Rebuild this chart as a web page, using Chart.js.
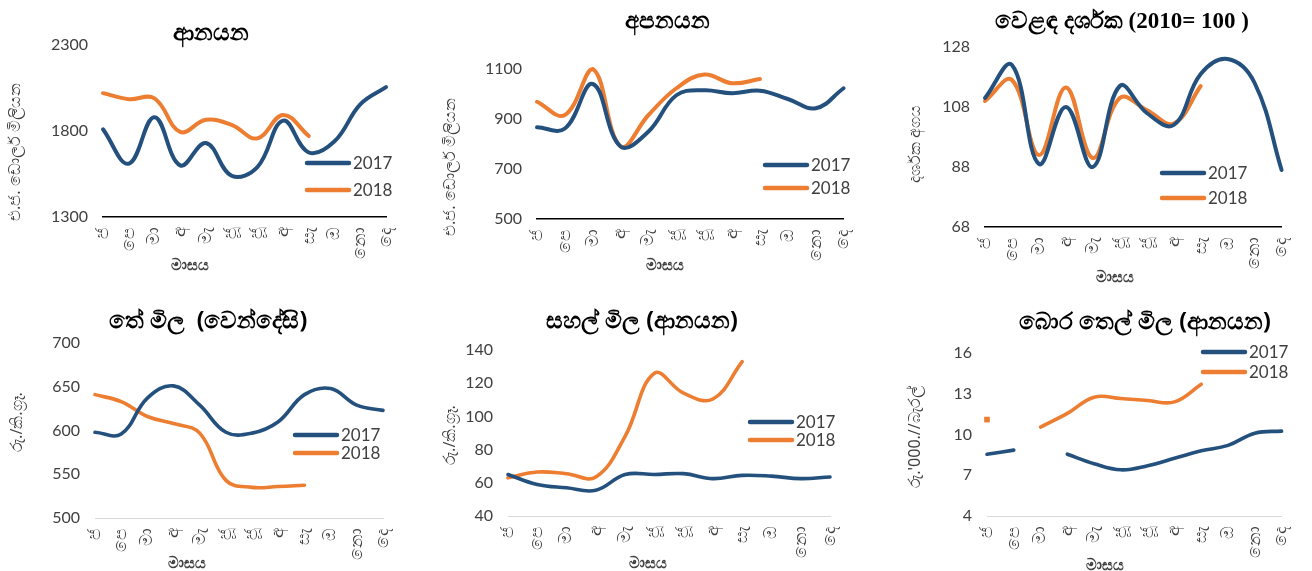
<!DOCTYPE html>
<html>
<head>
<meta charset="utf-8">
<script src="https://cdn.jsdelivr.net/npm/chart.js@4.4.1/dist/chart.umd.min.js"></script>
<style>
  body { margin: 0; background: #fff; }
  #wrap { position: relative; width: 1312px; height: 571px; overflow: hidden; }
  canvas { position: absolute; }
</style>
</head>
<body>
<div id="wrap">
  <canvas id="c1" width="437" height="290" style="left:0;top:0"></canvas>
  <canvas id="c2" width="437" height="290" style="left:437px;top:0"></canvas>
  <canvas id="c3" width="438" height="290" style="left:874px;top:0"></canvas>
  <canvas id="c4" width="437" height="281" style="left:0;top:290px"></canvas>
  <canvas id="c5" width="437" height="281" style="left:437px;top:290px"></canvas>
  <canvas id="c6" width="438" height="281" style="left:874px;top:290px"></canvas>
</div>
<script>
// මාස (x අක්ෂය)
const months = ['ජ', 'පෙ', 'මා', 'අ', 'මැ', 'ජූ', 'ජූ', 'අ', 'සැ', 'ඔ', 'නො', 'දෙ'];
const years = ['2017', '2018'];

// ආනයන (එ.ජ. ඩොලර් මිලියන)
const imports2017 = [1810, 1610, 1880, 1600, 1730, 1540, 1590, 1860, 1675, 1740, 1955, 2055];
const imports2018 = [2020, 1985, 1990, 1795, 1865, 1835, 1757, 1893, 1771];
const importsTicks = [1300, 1800, 2300];

// අපනයන
const exports2017 = [867, 862, 1040, 790, 850, 995, 1015, 1003, 1013, 980, 943, 1023];
const exports2018 = [969, 916, 1100, 790, 916, 1023, 1078, 1043, 1060];
const exportsTicks = [500, 700, 900, 1100];

// වෙළඳ දර්ශක
const index2017 = [111, 122, 89, 108, 88, 115, 106, 102, 119, 124, 116, 87];
const index2018 = [110, 117, 92, 114.5, 91, 111, 107, 102.5, 115];
const indexTicks = [68, 88, 108, 128];

// තේ මිල
const tea2017 = [598, 596, 637, 651, 629, 598, 597, 610, 641, 648, 629, 623];
const tea2018 = [641, 633, 616, 608, 597, 543, 535, 536, 537.5];
const teaTicks = [500, 550, 600, 650, 700];

// සහල් මිල
const rice2017 = [65, 59, 57, 55.5, 65, 65, 65.5, 62.5, 64.5, 64, 62.5, 63.5];
const rice2018 = [63, 66.5, 65.5, 63.5, 88, 126, 114, 110.5, 133];
const riceTicks = [40, 60, 80, 100, 120, 140];

// බොර තෙල් මිල
const oil2017 = [8.55, 8.85, null, 8.55, 7.85, 7.4, 7.7, 8.25, 8.8, 9.2, 10.1, 10.25];
const oil2018 = [11.1, null, 10.55, 11.55, 12.75, 12.65, 12.5, 12.4, 13.7];
const oilTicks = [4, 7, 10, 13, 16];

const BLUE = '#24507d';
const ORANGE = '#ed7d31';
const TXT = '#404040';
const NUM_FONT = 'Lato, "Noto Sans", sans-serif';
const SIN_FONT = '"Noto Sans", "DejaVu Sans", sans-serif';

// මාතෘකා, අක්ෂ නාම සහ legend අඳින plugin එක
const panelText = {
    id: 'panelText',
    afterDraw(chart, args, o) {
        const ctx = chart.ctx;
        ctx.save();
        ctx.textBaseline = 'middle';

        // මාතෘකාව
        ctx.fillStyle = '#000';
        ctx.textAlign = 'center';
        ctx.font = o.titleFont || ('bold 23px ' + SIN_FONT);
        ctx.fillText(o.title, o.titleX, o.titleY);

        // y අක්ෂ නාමය
        ctx.save();
        ctx.translate(o.yTitleX, o.yTitleY);
        ctx.rotate(-Math.PI / 2);
        ctx.fillStyle = TXT;
        ctx.font = '16px ' + SIN_FONT;
        ctx.fillText(o.yTitle, 0, 0);
        ctx.restore();

        // x අක්ෂ නාමය
        ctx.fillStyle = TXT;
        ctx.font = 'bold 15px ' + SIN_FONT;
        ctx.fillText('මාසය', o.xTitleX, o.xTitleY);

        // legend
        chart.data.datasets.forEach((ds, i) => {
            const y = o.legendY[i];
            ctx.strokeStyle = ds.borderColor;
            ctx.lineWidth = 4.5;
            ctx.lineCap = 'round';
            ctx.beginPath();
            ctx.moveTo(o.legendX, y);
            ctx.lineTo(o.legendX + 42, y);
            ctx.stroke();
            ctx.fillStyle = TXT;
            ctx.textAlign = 'left';
            ctx.font = '17px ' + NUM_FONT;
            ctx.fillText(ds.label, o.legendX + 46, y + 1);
        });
        ctx.restore();
    }
};

function makeChart(id, d2017, d2018, ticks, area, text, opts) {
    const canvas = document.getElementById(id);
    const W = canvas.width, H = canvas.height;
    const lw = opts.lineWidth;
    return new Chart(canvas, {
        type: 'line',
        data: {
            labels: months,
            datasets: [
                { label: years[0], data: d2017, borderColor: BLUE, backgroundColor: BLUE,
                  borderWidth: lw, pointRadius: 0, tension: 0.4, clip: false, borderCapStyle: 'round' },
                { label: years[1], data: d2018, borderColor: ORANGE, backgroundColor: ORANGE,
                  borderWidth: lw, pointRadius: opts.pointRadius || 0, pointStyle: 'rect',
                  pointBorderWidth: 0, tension: 0.4, clip: false, borderCapStyle: 'round' }
            ]
        },
        options: {
            responsive: false,
            animation: false,
            layout: { padding: { left: 0, top: area.top, right: W - area.right, bottom: 0 } },
            plugins: {
                legend: { display: false },
                title: { display: false },
                tooltip: { enabled: false },
                panelText: text
            },
            scales: {
                x: {
                    offset: false,
                    grid: { display: false, drawTicks: false },
                    border: { display: true, color: opts.axisColor, width: opts.axisWidth },
                    ticks: {
                        autoSkip: false, minRotation: 90, maxRotation: 90, padding: 10,
                        color: TXT, font: { family: SIN_FONT, size: 17 }
                    },
                    afterFit(scale) { scale.height = H - area.bottom; }
                },
                y: {
                    min: ticks[0],
                    max: ticks[ticks.length - 1],
                    grid: { display: false, drawTicks: false },
                    border: { display: false },
                    afterBuildTicks(scale) { scale.ticks = ticks.map(v => ({ value: v })); },
                    ticks: {
                        padding: 15, color: TXT, font: { family: NUM_FONT, size: 16 },
                        callback: v => String(v)
                    },
                    afterFit(scale) { scale.width = area.left; }
                }
            }
        },
        plugins: [panelText]
    });
}

const topAxis = { lineWidth: 4, axisColor: '#000', axisWidth: 1.5 };
const botAxis = { lineWidth: 3.6, axisColor: '#d9d9d9', axisWidth: 1 };

makeChart('c1', imports2017, imports2018, importsTicks,
    { left: 103, right: 386, top: 45, bottom: 217 },
    { title: 'ආනයන', titleX: 211, titleY: 33, yTitle: 'එ.ජ. ඩොලර් මිලියන', yTitleX: 15, yTitleY: 152,
      xTitleX: 190, xTitleY: 266, legendX: 307, legendY: [163, 190] }, topAxis);

makeChart('c2', exports2017, exports2018, exportsTicks,
    { left: 100, right: 409, top: 69, bottom: 219 },
    { title: 'අපනයන', titleX: 230, titleY: 21, yTitle: 'එ.ජ. ඩොලර් මිලියන', yTitleX: 13, yTitleY: 167,
      xTitleX: 228, xTitleY: 266, legendX: 328, legendY: [165, 188] }, topAxis);

makeChart('c3', index2017, index2018, indexTicks,
    { left: 111, right: 415, top: 47, bottom: 227 },
    { title: 'වෙළඳ දර්ශක (2010= 100 )', titleFont: 'bold 23px "Liberation Serif", serif',
      titleX: 248, titleY: 22, yTitle: 'දර්ශක අගය', yTitleX: 41, yTitleY: 144,
      xTitleX: 241, xTitleY: 278, legendX: 288, legendY: [173, 198] }, topAxis);

makeChart('c4', tea2017, tea2018, teaTicks,
    { left: 95, right: 383, top: 53, bottom: 228 },
    { title: 'තේ මිල  (වෙන්දේසි)', titleX: 208, titleY: 31, yTitle: 'රු./කි.ග්‍රෑ.', yTitleX: 17, yTitleY: 132,
      xTitleX: 187, xTitleY: 274, legendX: 295, legendY: [145, 163] }, botAxis);

makeChart('c5', rice2017, rice2018, riceTicks,
    { left: 71, right: 393, top: 60, bottom: 226 },
    { title: 'සහල් මිල (ආනයන)', titleX: 205, titleY: 31, yTitle: 'රු./කි.ග්‍රෑ.', yTitleX: 13, yTitleY: 145,
      xTitleX: 211, xTitleY: 274, legendX: 313, legendY: [132, 150] }, botAxis);

makeChart('c6', oil2017, oil2018, oilTicks,
    { left: 113, right: 420, top: 63, bottom: 226 },
    { title: 'බොර තෙල් මිල (ආනයන)', titleX: 271, titleY: 32, yTitle: "රු.'000.//බැරල්", yTitleX: 41, yTitleY: 147,
      xTitleX: 231, xTitleY: 276, legendX: 329, legendY: [62, 82] },
    Object.assign({ pointRadius: [4, 0, 0, 0, 0, 0, 0, 0, 0] }, botAxis));
</script>
</body>
</html>
